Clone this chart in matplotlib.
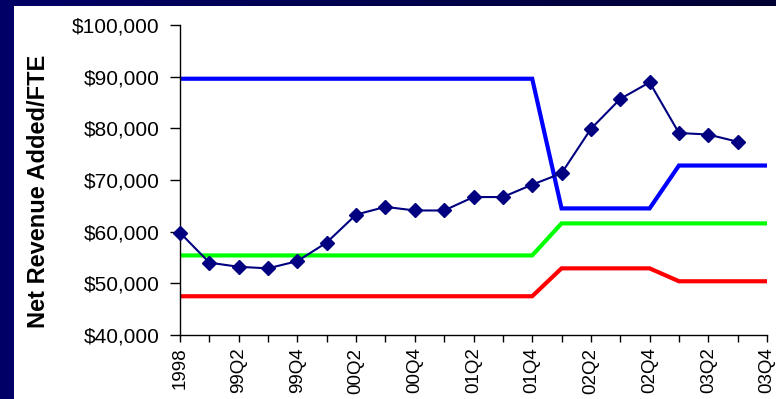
import numpy as np
import matplotlib
matplotlib.use("Agg")
import matplotlib.pyplot as plt
from matplotlib.colors import LinearSegmentedColormap
from matplotlib.ticker import FuncFormatter

plt.rcParams['font.family'] = ['Liberation Sans', 'DejaVu Sans']

# Quarterly periods, 1998 through 2003 Q4
periods = ["1998", "99Q1", "99Q2", "99Q3", "99Q4", "00Q1", "00Q2", "00Q3", "00Q4",
           "01Q1", "01Q2", "01Q3", "01Q4", "02Q1", "02Q2", "02Q3", "02Q4",
           "03Q1", "03Q2", "03Q3", "03Q4"]
shown_labels = ["1998", "99Q2", "99Q4", "00Q2", "00Q4", "01Q2", "01Q4",
                "02Q2", "02Q4", "03Q2", "03Q4"]

# Net revenue added per FTE (actual)
net_revenue = [59800, 54000, 53200, 52900, 54300, 57900, 63300, 64800, 64100,
               64100, 66700, 66700, 69100, 71300, 79900, 85700, 88900, 79100,
               78800, 77400]

# Benchmark levels
upper_band = [89600] * 13 + [64500] * 4 + [72800] * 4
mid_band = [55400] * 13 + [61600] * 8
lower_band = [47500] * 13 + [52900] * 4 + [50400] * 4

W, H = 776, 399
fig = plt.figure(figsize=(W / 100, H / 100), dpi=100, facecolor="#000066")

# white slide area with a dark gradient bar on top
fig.patches.append(plt.Rectangle((14 / W, 0), 1 - 14 / W, 1 - 6 / H,
                                 transform=fig.transFigure, facecolor="white",
                                 edgecolor="none", zorder=-5))
bar = fig.add_axes([0, 1 - 6 / H, 1, 6 / H])
grad = LinearSegmentedColormap.from_list("bar", ["#000066", "#000033"])
bar.imshow(np.linspace(0, 1, 256)[None, :], aspect="auto", cmap=grad)
bar.set_axis_off()

ax = fig.add_axes([180 / W, 1 - 335 / H, (767 - 180) / W, (335 - 25) / H])
ax.set_facecolor("none")

x = np.arange(len(periods))
ax.plot(x, upper_band, color="#0000FF", lw=3.0, solid_joinstyle="miter", zorder=2)
ax.plot(x, mid_band, color="#00FF00", lw=3.0, solid_joinstyle="miter", zorder=2)
ax.plot(x, lower_band, color="#FF0000", lw=3.0, solid_joinstyle="miter", zorder=2)
ax.plot(x[:len(net_revenue)], net_revenue, color="#000080", lw=1.5,
        marker="D", markersize=7.5, markerfacecolor="#000080",
        markeredgecolor="#000080", zorder=3, clip_on=False)

ax.set_xlim(0, len(periods) - 1)
ax.set_ylim(40000, 100000)
ax.set_yticks(np.arange(40000, 100001, 10000))
ax.yaxis.set_major_formatter(FuncFormatter(lambda v, p: f"${v:,.0f}"))

ax.set_xticks(x)
ax.set_xticklabels([p if p in shown_labels else "" for p in periods],
                   rotation=90, fontsize=13.5)
ax.tick_params(axis="y", labelsize=15, length=7, width=1, direction="out", pad=8)
ax.tick_params(axis="x", length=5, width=1, direction="out", pad=4)

for side in ("top", "right"):
    ax.spines[side].set_visible(False)
for side in ("left", "bottom"):
    ax.spines[side].set_linewidth(1)
    ax.spines[side].set_color("black")

ax.set_ylabel("Net Revenue Added/FTE", fontsize=17, fontweight="bold")
ax.yaxis.set_label_coords(-0.222, 0.463)

fig.savefig("out.png", dpi=100, facecolor=fig.get_facecolor())
